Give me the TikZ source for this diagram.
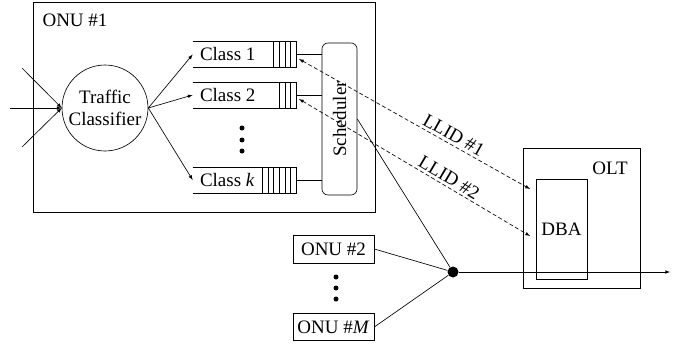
\documentclass[tikz,border=0pt]{standalone}
\usepackage{fontspec}
\setmainfont{Liberation Serif}
\usetikzlibrary{arrows,calc,positioning}
\tikzstyle{queue} = [minimum width=103pt, minimum height=25pt, inner sep=0pt]
\tikzstyle{box} = [draw, inner sep=0pt]
\tikzstyle{dot} = [circle, fill=black, inner sep=0pt, minimum size=5pt]
\tikzstyle{link} = [<->, dash pattern=on 4pt off 2.5pt]

\begin{document}
\begin{tikzpicture}[x=1pt,y=-1pt,>=latex,line width=0.65pt,font=\fontsize{19}{22}\selectfont]
        \useasboundingbox (0,0) rectangle (680,345);

        % ONU #1
        \node[box, minimum width=342pt, minimum height=210pt] (ONU1) at (204,107) {};
        \node (ONU1label) at (75,20) {ONU \#1};

        \node[circle, draw, minimum size=86pt, inner sep=0pt, align=center] (TC) at (105,108) {Traffic\\Classifier};

        \coordinate (in1) at (22,68);
        \coordinate (in2) at (10,108);
        \coordinate (in3) at (22,147);
        \foreach \i in {1,2,3}
        \draw[->] (in\i) -- (TC.west);

        \node[queue] (Q1) at (244.5,54.5) {};
        \node[queue] (Q2) at (244.5,95) {};
        \node[queue] (Qk) at (244.5,180) {};
        \node[right=7pt of Q1.west, inner sep=0pt] (C1) {Class 1};
        \node[right=7pt of Q2.west, inner sep=0pt] (C2) {Class 2};
        \node[right=7pt of Qk.west, inner sep=0pt] (Ck) {Class \textit{k}};

        \foreach \q/\n in {Q1/4,Q2/3,Qk/6} {
            \draw (\q.north west) -- (\q.north east) -- (\q.south east) -- (\q.south west);
            \foreach \c in {1,...,\n}
            \draw ($(\q.north east)+(-\c*5.7,0)$) -- ($(\q.south east)+(-\c*5.7,0)$);
        }

        \foreach \y in {128,140,151}
        \node[dot] (qd\y) at (242,\y) {};

        \node[box, rounded corners=6pt, minimum width=152pt, minimum height=35pt, rotate=90] (Sched) at (339.5,119) {Scheduler};

        \foreach \q in {Q1,Q2,Qk} {
            \draw[->] (TC.east) -- (\q.west);
            \draw (\q.east) -- (\q.east -| Sched.north);
        }

        % other ONUs
        \node[box, minimum width=81pt, minimum height=28pt] (ONU2) at (333.5,249) {ONU \#2};
        \node[box, minimum width=81pt, minimum height=27pt] (ONUM) at (333.5,327) {ONU \#\textit{M}};
        \foreach \y in {277,288,299}
        \node[dot] (od\y) at (336,\y) {};

        \node[circle, fill=black, inner sep=0pt, minimum size=11pt] (split) at (453,272) {};
        \draw (Sched.south) -- (split);
        \draw (ONU2.east) -- (split);
        \draw (ONUM.east) -- (split);
        \coordinate (out) at (670,272);
        \draw[->] (split) -- (out);

        % OLT
        \node[box, minimum width=117pt, minimum height=140pt] (OLT) at (581.5,218) {};
        \node (OLTlabel) at (610,168) {OLT};
        \node[box, minimum width=51pt, minimum height=100pt] (DBA) at (561.5,229) {DBA};

        \coordinate (l1a) at (299,59);
        \coordinate (l1b) at (530,189);
        \coordinate (l2a) at (299,99);
        \coordinate (l2b) at (530,236);
        \draw[link] (l1a) -- node[pos=.65, above, sloped, inner sep=3pt] (LL1) {LLID \#1} (l1b);
        \draw[link] (l2a) -- node[pos=.63, above, sloped, inner sep=2.5pt] (LL2) {LLID \#2} (l2b);

\end{tikzpicture}
\end{document}
